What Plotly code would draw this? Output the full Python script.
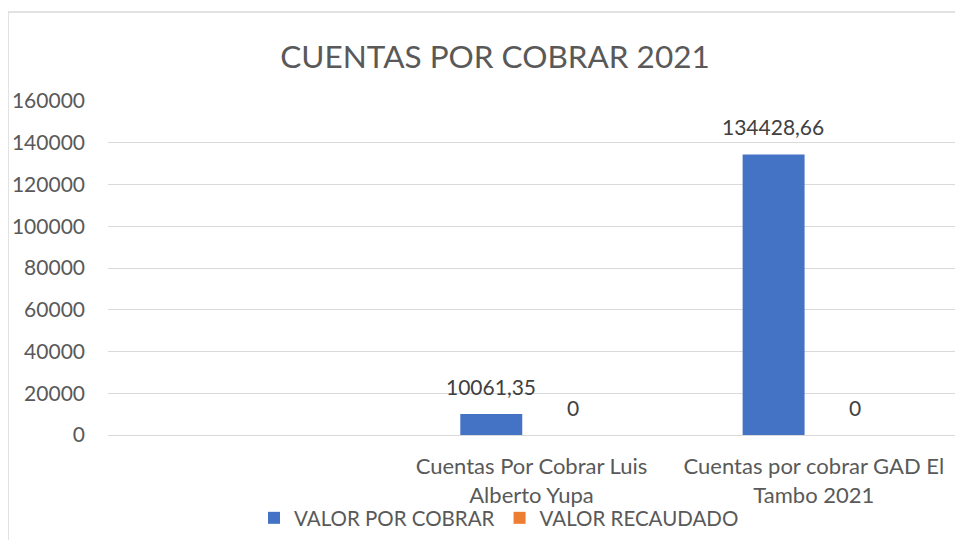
import plotly.graph_objects as go

categories = [" ", "Cuentas Por Cobrar Luis<br>Alberto Yupa", "Cuentas por cobrar GAD El<br>Tambo 2021"]
valor_por_cobrar = [None, 10061.35, 134428.66]
valor_recaudado = [None, 0, 0]
y_ticks = [0, 20000, 40000, 60000, 80000, 100000, 120000, 140000, 160000]

BLUE = "#4472C4"
ORANGE = "#ED7D31"
TXT = "#595959"
GRID = "#d9d9d9"
FONT = "Lato"


def fmt(v):
    if v is None:
        return ""
    if float(v).is_integer():
        return str(int(v))
    return f"{v:.2f}".replace(".", ",")


fig = go.Figure()
fig.add_trace(go.Bar(x=categories, y=valor_por_cobrar, name="VALOR POR COBRAR",
                     marker=dict(color=BLUE, line=dict(width=0))))
fig.add_trace(go.Bar(x=categories, y=valor_recaudado, name="VALOR RECAUDADO",
                     marker=dict(color=ORANGE, line=dict(width=0))))

annotations = []
for series, shift in ((valor_por_cobrar, -41), (valor_recaudado, 41)):
    for c, v in zip(categories, series):
        if v is None:
            continue
        annotations.append(dict(x=c, y=v, xref="x", yref="y", text=fmt(v),
                                showarrow=False, xshift=shift, yshift=13,
                                yanchor="bottom",
                                font=dict(family=FONT, size=21, color="#404040")))

fig.update_layout(
    width=947, height=532,
    margin=dict(l=100, r=0, t=93, b=105),
    paper_bgcolor="white", plot_bgcolor="white",
    barmode="group", bargap=0.43, bargroupgap=0.23,
    title=dict(text="CUENTAS POR COBRAR 2021", x=(495 - 8) / 947, xanchor="center",
               y=1 - 49 / 532, yanchor="middle",
               font=dict(family=FONT, size=31.5, color=TXT)),
    font=dict(family=FONT, size=20, color=TXT),
    showlegend=True,
    legend=dict(orientation="h", x=0.4616, xanchor="center", y=-0.2485, yanchor="middle",
                font=dict(family=FONT, size=20.5, color=TXT), itemwidth=30,
                bgcolor="rgba(0,0,0,0)"),
    annotations=annotations,
    shapes=[dict(type="rect", xref="paper", yref="paper",
                 x0=-100 / 847, x1=1.2, y0=-0.6, y1=(427 - 4) / 334,
                 line=dict(color=GRID, width=1.5), fillcolor="rgba(0,0,0,0)",
                 layer="below")],
)
fig.update_yaxes(range=[0, 160000], tickvals=y_ticks, ticktext=[str(t) for t in y_ticks],
                 showgrid=True, gridcolor=GRID, gridwidth=1,
                 zeroline=False, showline=False, ticks="", ticklabelstandoff=22,
                 tickfont=dict(family=FONT, size=21, color=TXT))
fig.update_xaxes(showgrid=False, showline=True, linecolor=GRID, linewidth=1, ticks="",
                 ticklabelstandoff=12,
                 tickfont=dict(family=FONT, size=22, color=TXT))

fig.write_html("out.html")
